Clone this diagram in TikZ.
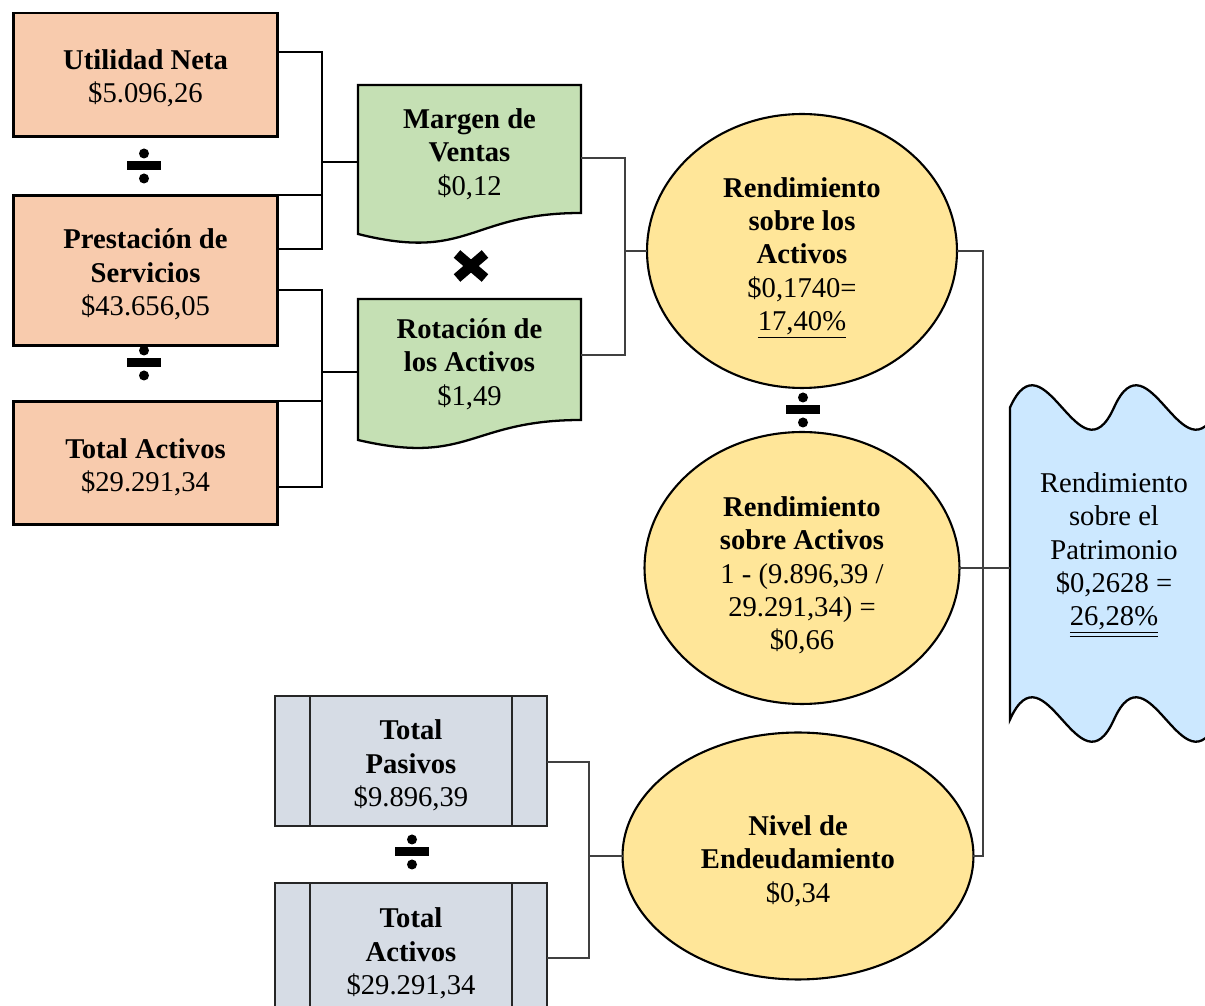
\documentclass[tikz,border=0pt]{standalone}
\usepackage{fontspec}
\setmainfont{Liberation Serif}
\usetikzlibrary{shapes.geometric}
\definecolor{orangeF}{HTML}{F8CBAD}
\definecolor{greenF}{HTML}{C5E0B4}
\definecolor{yellowF}{HTML}{FFE699}
\definecolor{blueF}{RGB}{204,232,255}
\definecolor{grayF}{HTML}{D6DCE5}
\definecolor{connGray}{HTML}{404040}
\newcommand{\dblul}[1]{\underline{\underline{#1}}}
\begin{document}
\begin{tikzpicture}[x=0.02cm,y=-0.02cm,
  every node/.style={align=center, font=\fontsize{16.3}{19.0}\selectfont, inner sep=0pt, outer sep=0pt},
  obox/.style={rectangle, draw=black, line width=1.7pt, fill=orangeF, minimum width=5.3cm},
  docst/.style={draw=black, line width=1.3pt, fill=greenF},
  doctext/.style={rectangle, minimum width=4.46cm},
  ell/.style={ellipse, draw=black, line width=1.2pt, fill=yellowF},
  gbox/.style={rectangle, draw=black!85, line width=1.4pt, fill=grayF, minimum width=5.44cm, minimum height=2.6cm},
  gline/.style={draw=black!85, line width=1.4pt},
  wavest/.style={draw=black, line width=1.3pt, fill=blueF},
  tx/.style={rectangle},
  conn/.style={draw=black, line width=1.1pt},
  conng/.style={draw=connGray, line width=0.8pt},
  divsign/.pic={\fill (-17,-4.5) rectangle (17,4.5);
                \fill (0,-12.5) circle[radius=5];
                \fill (0,12.5) circle[radius=5];},
  mulsign/.pic={\draw[line width=5.7pt] (-14,-12) -- (14,12);
                \draw[line width=5.7pt] (-14,12) -- (14,-12);}
]
\useasboundingbox (0,0) rectangle (1205,1006);
\clip (0,0) rectangle (1205,1006);

% ---------- left orange boxes ----------
\node[obox, minimum height=2.48cm] (un) at (145.5,75) {};
\node[tx] (un-t) at ([yshift=-0.07cm]un.center) {{\bfseries Utilidad Neta}\\\$5.096,26};
\node[obox, minimum height=3.02cm] (ps) at (145.5,270.5) {};
\node[tx] (ps-t) at ([yshift=-0.08cm]ps.center) {{\bfseries Prestación de}\\{\bfseries Servicios}\\\$43.656,05};
\node[obox, minimum height=2.48cm] (ta) at (145.5,463) {};
\node[tx] (ta-t) at ([yshift=-0.09cm]ta.center) {{\bfseries Total Activos}\\\$29.291,34};
\pic at (144,166) {divsign};
\pic at (144,363) {divsign};

% ---------- green document shapes ----------
\draw[docst] (358,85) -- (581,85) -- (581,213) .. controls (469.5,213) and (469.5,262) .. (358,234) -- cycle;
\draw[docst] (358,299) -- (581,299) -- (581,420) .. controls (469.5,420) and (469.5,466) .. (358,440) -- cycle;
\node[doctext] (mv) at (469.5,154) {{\bfseries Margen de}\\{\bfseries Ventas}\\\$0,12};
\node[doctext] (ra) at (469.5,364) {{\bfseries Rotación de}\\{\bfseries los Activos}\\\$1,49};
\pic at (471,266) {mulsign};

% ---------- ellipses ----------
\node[ell, minimum width=6.2cm, minimum height=5.48cm] (e1) at (802,251) {};
\node[tx] (e1-t) at ([yshift=-0.14cm]e1.center)
  {{\bfseries Rendimiento}\\{\bfseries sobre los}\\{\bfseries Activos}\\\$0,1740=\\\underline{17,40\%}};
\pic at (803,410) {divsign};
\node[ell, minimum width=6.3cm, minimum height=5.44cm] (e2) at (802,568) {};
\node[tx] (e2-t) at ([yshift=-0.15cm]e2.center)
  {{\bfseries Rendimiento}\\{\bfseries sobre Activos}\\1 - (9.896,39 /\\29.291,34) =\\\$0,66};
\node[ell, minimum width=7.02cm, minimum height=4.94cm] (e3) at (798,856) {};
\node[tx] (e3-t) at ([yshift=-0.1cm]e3.center)
  {{\bfseries Nivel de}\\{\bfseries Endeudamiento}\\\$0,34};

% ---------- gray process boxes ----------
\node[gbox] (tp) at (411,761) {};
\node[tx] (tp-t) at ([yshift=-0.09cm]tp.center) {{\bfseries Total}\\{\bfseries Pasivos}\\\$9.896,39};
\draw[gline] ([xshift=0.7cm]tp.north west) -- ([xshift=0.7cm]tp.south west);
\draw[gline] ([xshift=-0.7cm]tp.north east) -- ([xshift=-0.7cm]tp.south east);
\node[gbox] (tb) at (411,948) {};
\node[tx] (tb-t) at ([yshift=-0.11cm]tb.center) {{\bfseries Total}\\{\bfseries Activos}\\\$29.291,34};
\draw[gline] ([xshift=0.7cm]tb.north west) -- ([xshift=0.7cm]tb.south west);
\draw[gline] ([xshift=-0.7cm]tb.north east) -- ([xshift=-0.7cm]tb.south east);
\pic at (412,852) {divsign};

% ---------- blue double-wave shape ----------
\draw[wavest] (1010,407.5)
  .. controls (1044.7,330.5) and (1079.3,484.5) .. (1114,407.5)
  .. controls (1148.7,330.5) and (1183.3,484.5) .. (1218,407.5)
  -- (1218,719.5)
  .. controls (1183.3,796.5) and (1148.7,642.5) .. (1114,719.5)
  .. controls (1079.3,796.5) and (1044.7,642.5) .. (1010,719.5) -- cycle;
\node[rectangle, minimum width=4.16cm] (rp) at (1114,555)
  {Rendimiento\\sobre el\\Patrimonio\\\$0,2628 =\\\dblul{26,28\%}};

% ---------- connectors ----------
\coordinate (j1) at (322,162);
\coordinate (j2) at (322,372);
\coordinate (j3) at (625,251);
\coordinate (j4) at (983,568);
\coordinate (j5) at (589,856);

\draw[conn] (un.east |- 0,52) -| (j1) -- (mv.west |- j1);
\draw[conn] (ps.east |- 0,249) -| (j1);
\draw[conn] (ps.north east) -- (ps.north east -| j1);

\draw[conn] (ps.east |- 0,290) -| (j2) -- (ra.west |- j2);
\draw[conn] (ta.east |- 0,487) -| (j2);
\draw[conn] (ta.north east) -- (ta.north east -| j2);

\draw[conng] (mv.east |- 0,158) -| (j3) -- (e1.west);
\draw[conng] (ra.east |- 0,355) -| (j3);

\draw[conng] (e1.east) -| (j4);
\draw[conng] (e3.east) -| (j4);
\draw[conng] (e2.east) -- (rp.west |- e2.east);

\draw[conng] (tp.east |- 0,762) -| (j5) -- (e3.west);
\draw[conng] (tb.east |- 0,958) -| (j5);
\end{tikzpicture}
\end{document}
